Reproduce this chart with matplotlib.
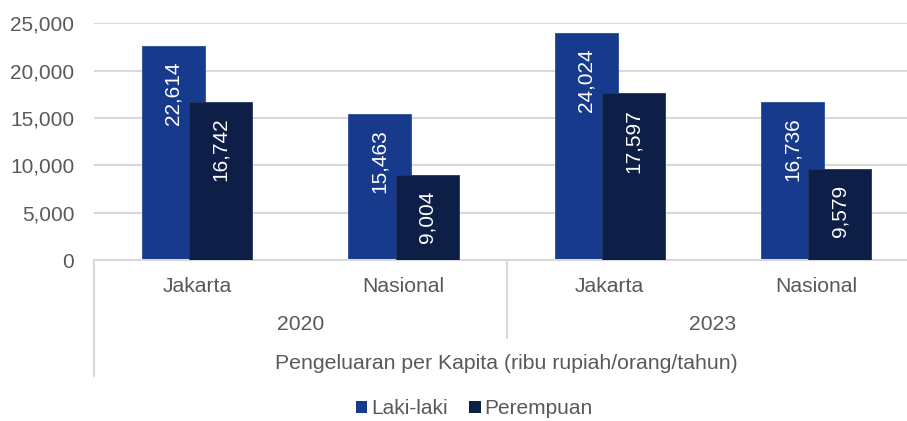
import matplotlib.pyplot as plt
from matplotlib.patches import Patch

years = ['2020', '2023']
regions = ['Jakarta', 'Nasional']
laki = [22614, 15463, 24024, 16736]
perempuan = [16742, 9004, 17597, 9579]
yticks = [0, 5000, 10000, 15000, 20000, 25000]
axis_title = 'Pengeluaran per Kapita (ribu rupiah/orang/tahun)'

blue = '#173a8c'
navy = '#0d1f47'
grey = '#595959'
gridc = '#d9d9d9'

plt.rcParams['font.family'] = ['Liberation Sans', 'DejaVu Sans']

fig = plt.figure(figsize=(9.07, 4.21), dpi=100)
ax = fig.add_axes([0.1034, 0.3824, 0.9103, 0.5622])

x = list(range(len(laki)))
off = 0.115
w = 0.305
b1 = ax.bar([i - off for i in x], laki, w, color=blue, edgecolor='#2a4c9c', linewidth=0.6, zorder=2)
b2 = ax.bar([i + off for i in x], perempuan, w, color=navy, edgecolor='#26355e', linewidth=0.6, zorder=3)

for bars, vals in [(b1, laki), (b2, perempuan)]:
    for r, v in zip(bars, vals):
        ax.annotate(f'{v:,}', xy=(r.get_x() + r.get_width() / 2, v), xytext=(0, -16),
                    textcoords='offset pixels', rotation=90, ha='center', va='top',
                    color='white', fontsize=15, zorder=4)

ax.set_xlim(-0.5, len(laki) - 0.5)
ax.set_ylim(0, 25000)
ax.set_yticks(yticks)
ax.set_yticklabels([f'{t:,}' for t in yticks])
ax.tick_params(axis='y', length=0, labelsize=15, labelcolor=grey, pad=14)
ax.set_xticks([])
ax.yaxis.grid(True, color=gridc, linewidth=1.5, zorder=0)
ax.set_axisbelow(True)
for s in ['top', 'right', 'left']:
    ax.spines[s].set_visible(False)
ax.spines['bottom'].set_color(gridc)
ax.spines['bottom'].set_linewidth(1.5)

# multi-level category axis
for i in x:
    ax.annotate(regions[i % 2], xy=(i, 0), xycoords=('data', 'axes fraction'),
                xytext=(0, -26), textcoords='offset pixels', ha='center', va='center',
                fontsize=15.2, color=grey)
for j, yr in enumerate(years):
    ax.annotate(yr, xy=(2 * j + 0.5, 0), xycoords=('data', 'axes fraction'),
                xytext=(0, -64), textcoords='offset pixels', ha='center', va='center',
                fontsize=15.2, color=grey)
ax.annotate(axis_title, xy=(1.5, 0), xycoords=('data', 'axes fraction'),
            xytext=(0, -103), textcoords='offset pixels', ha='center', va='center',
            fontsize=15.3, color=grey)

trans = ax.get_xaxis_transform()
h_px = ax.get_position().height * fig.get_figheight() * fig.dpi
for xs, depth in [(-0.5, 116), (1.5, 78), (3.5, 116)]:
    ax.plot([xs, xs], [0, -depth / h_px], transform=trans, color=gridc,
            linewidth=1.5, clip_on=False)

handles = [Patch(facecolor=blue), Patch(facecolor=navy)]
fig.legend(handles, ['Laki-laki', 'Perempuan'], loc='center',
           bbox_to_anchor=(474.5 / 907, 1 - 409 / 421), ncol=2, frameon=False,
           fontsize=15, labelcolor=grey, handlelength=0.55, handleheight=0.55,
           handletextpad=0.2, columnspacing=1.0)

fig.savefig('out.png', dpi=100)
